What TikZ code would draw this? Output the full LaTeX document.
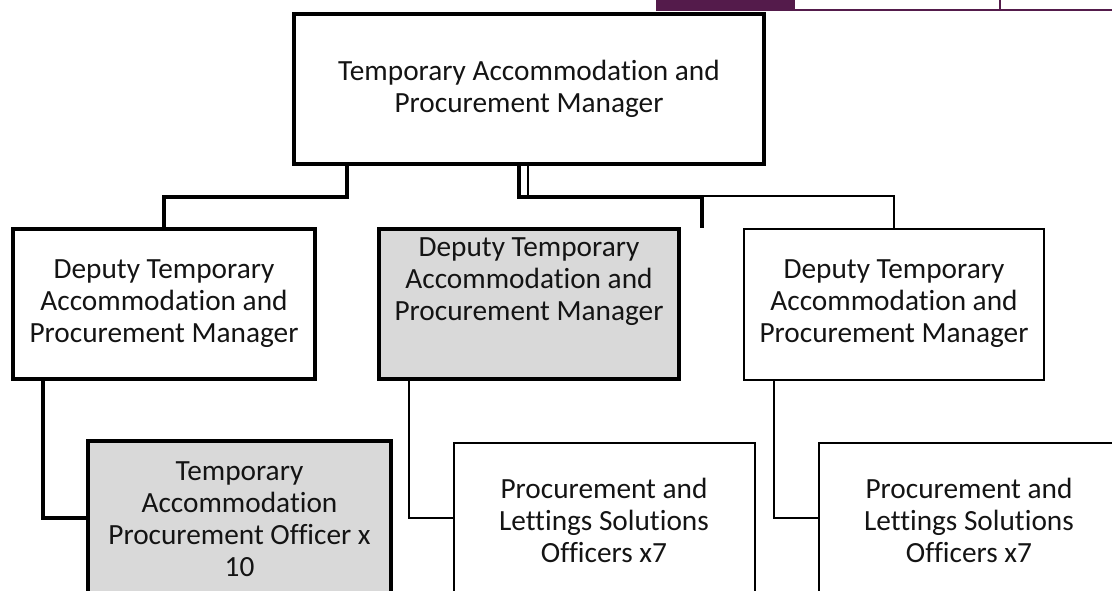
\documentclass[tikz,border=0pt]{standalone}
\usepackage{fontspec}
\setmainfont[Ligatures=NoCommon]{Carlito}
\definecolor{hdrpurple}{RGB}{84,27,75}
\definecolor{boxgray}{RGB}{217,217,217}
\definecolor{txt}{RGB}{20,20,20}
\begin{document}
\begin{tikzpicture}[x=1pt,y=-1pt,
  every node/.style={font=\fontsize{29.3}{32}\selectfont, text=txt, align=center, inner sep=0pt},
  thickbox/.style={draw=black, line width=4.5pt, rectangle},
  thinbox/.style={draw=black, line width=2pt, rectangle},
  grayfill/.style={fill=boxgray},
  thickline/.style={draw=black, line width=4.5pt},
  thinline/.style={draw=black, line width=2pt}]
\useasboundingbox (0,0) rectangle (1112,590);
\clip (0,0) rectangle (1112,590);
% header strip
\fill[hdrpurple] (656,0) rectangle (795,11);
\draw[hdrpurple, line width=2.5pt] (795,10) -- (1112,10);
\draw[hdrpurple, line width=2.5pt] (1000,0) -- (1000,10);
% boxes
\node[thickbox, minimum width=470pt, minimum height=150pt] (top) at (529,89) {Temporary Accommodation and\\Procurement Manager};
\node[thickbox, minimum width=302pt, minimum height=150pt] (b1) at (164,304) {Deputy Temporary\\Accommodation and\\Procurement Manager};
\node[thickbox, grayfill, minimum width=300pt, minimum height=150pt] (b2) at (529,304) {};
\node (b2t) at (529,282) {Deputy Temporary\\Accommodation and\\Procurement Manager};
\node[thinbox, minimum width=300pt, minimum height=151pt] (b3) at (894,304) {Deputy Temporary\\Accommodation and\\Procurement Manager};
\node[thickbox, grayfill, minimum width=303pt, minimum height=156pt] (b4) at (239.5,519) {Temporary\\Accommodation\\Procurement Officer x\\10};
\node[thinbox, minimum width=301pt, minimum height=154pt] (b5) at (604,520) {Procurement and\\Lettings Solutions\\Officers x7};
\node[thinbox, minimum width=301pt, minimum height=154pt] (b6) at (969,520) {Procurement and\\Lettings Solutions\\Officers x7};
% connector points
\coordinate (t1) at (347,197);
\coordinate (t2) at (519,197);
\coordinate (dang) at (702,228);
\coordinate (t3) at (528,196);
\coordinate (c1) at (43,518);
\coordinate (c2) at (409,518);
\coordinate (c3) at (774,518);
% connectors
\draw[thickline] (top.south -| t1) -- (t1) -| (b1.north);
\draw[thickline] (top.south -| t2) -- (t2) -| (dang);
\draw[thinline] (top.south -| t3) -- (t3) -| (b3.north);
\draw[thickline] (b1.south -| c1) -- (c1) -- (c1 -| b4.west);
\draw[thinline] (b2.south -| c2) -- (c2) -- (c2 -| b5.west);
\draw[thinline] (b3.south -| c3) -- (c3) -- (c3 -| b6.west);
\end{tikzpicture}
\end{document}
